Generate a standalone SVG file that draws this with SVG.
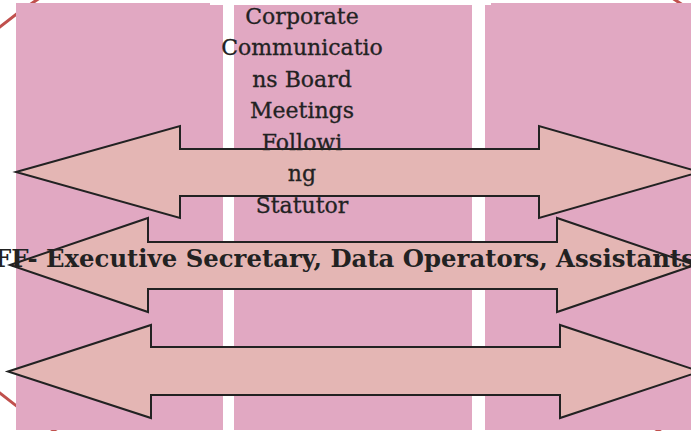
<svg xmlns="http://www.w3.org/2000/svg" width="691" height="431" viewBox="0 0 691 431">
<style>
.col{fill:#e1a8c2;stroke:none}
.arr{fill:#e4b6b4;stroke:#222;stroke-width:2;stroke-linejoin:miter}
.t{font-family:"DejaVu Serif","Liberation Serif",serif;font-size:22px;fill:#222;stroke:#222;stroke-width:0.3;text-anchor:middle}
.b{font-family:"DejaVu Serif","Liberation Serif",serif;font-size:24px;font-weight:bold;fill:#222}
</style>
<rect width="691" height="431" fill="#fff"/>
<ellipse cx="356" cy="210" rx="453" ry="296" fill="none" stroke="#c0504d" stroke-width="3"/>
<g id="column-left"><path class="col" d="M16,3 H210 V5 H223 V430 H16 Z"/></g>
<g id="column-middle"><rect class="col" x="234" y="5" width="238" height="425"/></g>
<g id="column-right"><path class="col" d="M485,5 H491 V3 H691 V430 H485 Z"/></g>
<g id="connectors">
<polygon class="arr" points="16,172 180,126 180,149 539,149 539,126 700,172 539,218 539,196 180,196 180,218"/>
<polygon class="arr" points="10,265 148,218 148,242 557,242 557,218 695,265 557,312 557,289 148,289 148,312"/>
<polygon class="arr" points="8,371.5 151,325 151,347 560,347 560,325 700,371.5 560,418 560,395 151,395 151,418"/>
</g>
<g id="label-middle">
<text class="t" x="302" y="23.5">Corporate</text>
<text class="t" x="302" y="55">Communicatio</text>
<text class="t" x="302" y="86.5">ns Board</text>
<text class="t" x="302" y="118">Meetings</text>
<text class="t" x="302" y="149.5">Followi</text>
<text class="t" x="302" y="181">ng</text>
<text class="t" x="302" y="212.5">Statutor</text>
</g>
<g id="label-staff">
<text class="b" x="-6" y="267" textLength="701" lengthAdjust="spacingAndGlyphs">FF- Executive Secretary, Data Operators, Assistants</text>
</g>
</svg>
